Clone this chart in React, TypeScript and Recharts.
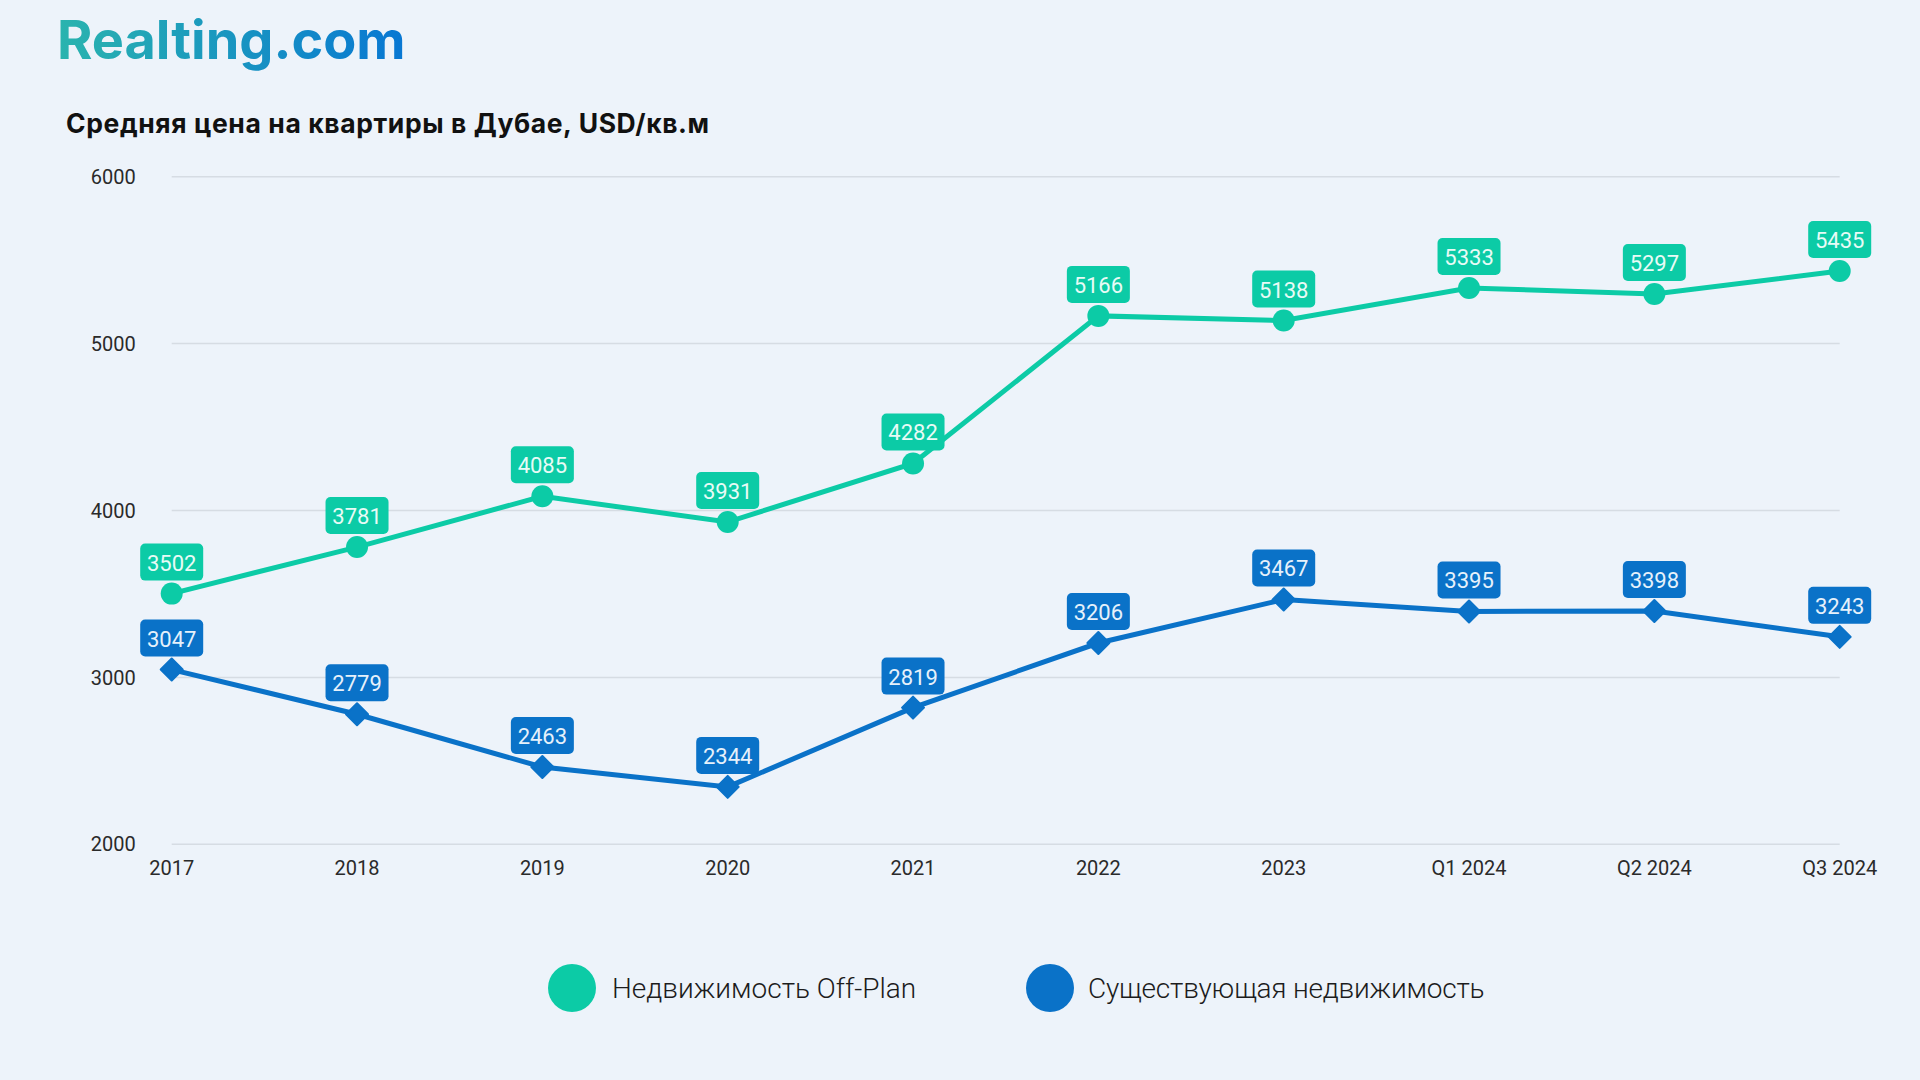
import React from 'react';
import { LineChart, Line, XAxis, YAxis, CartesianGrid, LabelList } from 'recharts';

const periods = ['2017', '2018', '2019', '2020', '2021', '2022', '2023', 'Q1 2024', 'Q2 2024', 'Q3 2024'];
const offPlanPrices = [3502, 3781, 4085, 3931, 4282, 5166, 5138, 5333, 5297, 5435];
const existingPrices = [3047, 2779, 2463, 2344, 2819, 3206, 3467, 3395, 3398, 3243];
const yTicks = [2000, 3000, 4000, 5000, 6000];

const GREEN = '#0ccba6';
const BLUE = '#0a72c8';
const BG = '#edf3fa';

const data = periods.map((p, i) => ({ period: p, offPlan: offPlanPrices[i], existing: existingPrices[i] }));

// rounded tag above each point
const makeTag = (fill: string, textFill: string) => (props: any) => {
  const { x, y, value } = props;
  if (x == null || y == null) return null;
  const w = 63;
  const h = 37;
  return (
    <g>
      <rect x={x - w / 2} y={y - 13 - h} width={w} height={h} rx={5} fill={fill} />
      <text
        x={x}
        y={y - 13 - h / 2 + 1}
        textAnchor="middle"
        dominantBaseline="central"
        fill={textFill}
        fontSize={22}
        fontWeight={400}
        fontFamily="Roboto"
      >
        {value}
      </text>
    </g>
  );
};

const GreenDot = (props: any) => {
  const { cx, cy, index } = props;
  return <circle key={`g-${index}`} cx={cx} cy={cy} r={11} fill={GREEN} />;
};

const BlueDot = (props: any) => {
  const { cx, cy, index } = props;
  const d = 11;
  return (
    <polygon
      key={`b-${index}`}
      points={`${cx},${cy - d} ${cx + d},${cy} ${cx},${cy + d} ${cx - d},${cy}`}
      fill={BLUE}
      stroke={BLUE}
      strokeWidth={2}
      strokeLinejoin="round"
    />
  );
};

const tickStyle = { fontSize: 20, fill: '#2a2a2a', fontFamily: 'Roboto' };

const App: React.FC = () => {
  return (
    <div style={{ position: 'absolute', left: 0, top: 0, width: 1920, height: 1080, background: BG, overflow: 'hidden' }}>
      <svg width={1920} height={1080} style={{ position: 'absolute', left: 0, top: 0 }}>
        <defs>
          <linearGradient id="logoGrad" x1="0" y1="0" x2="1" y2="0">
            <stop offset="0%" stopColor="#2ab4ae" />
            <stop offset="100%" stopColor="#0877d3" />
          </linearGradient>
        </defs>
        <text x={57} y={59} fontFamily="Inter" fontWeight={700} fontSize={54} fill="url(#logoGrad)">
          Realting.com
        </text>
        <text x={66} y={133} fontFamily="Inter" fontWeight={700} fontSize={26.5} letterSpacing={0.6} fill="#111">
          Средняя цена на квартиры в Дубае, USD/кв.м
        </text>

        <circle cx={572} cy={988} r={24} fill={GREEN} />
        <text x={612} y={998} fontFamily="Roboto" fontWeight={300} fontSize={28} fill="#1c1c1c">
          Недвижимость Off-Plan
        </text>
        <circle cx={1050} cy={988} r={24} fill={BLUE} />
        <text x={1088} y={998} fontFamily="Roboto" fontWeight={300} fontSize={28} letterSpacing={-0.2} fill="#1c1c1c">
          Существующая недвижимость
        </text>
      </svg>

      <div style={{ position: 'absolute', left: 0, top: 0 }}>
        <LineChart
          width={1920}
          height={1080}
          data={data}
          margin={{ top: 176.7, right: 80.3, bottom: 205.7, left: 71.7 }}
        >
          <CartesianGrid vertical={false} stroke="#d6dce3" strokeWidth={1.5} />
          <XAxis
            dataKey="period"
            axisLine={false}
            tickLine={false}
            tickSize={0}
            tickMargin={16}
            height={30}
            tick={tickStyle}
            interval={0}
          />
          <YAxis
            domain={[2000, 6000]}
            ticks={yTicks}
            axisLine={false}
            tickLine={false}
            tickSize={0}
            tickMargin={36}
            width={100}
            tick={tickStyle}
          />
          <Line
            type="linear"
            dataKey="offPlan"
            stroke={GREEN}
            strokeWidth={5}
            dot={GreenDot}
            activeDot={false}
            isAnimationActive={false}
          >
            <LabelList dataKey="offPlan" content={makeTag(GREEN, '#e8fbf6')} />
          </Line>
          <Line
            type="linear"
            dataKey="existing"
            stroke={BLUE}
            strokeWidth={5}
            dot={BlueDot}
            activeDot={false}
            isAnimationActive={false}
          >
            <LabelList dataKey="existing" content={makeTag(BLUE, '#e6f1fb')} />
          </Line>
        </LineChart>
      </div>
    </div>
  );
};

export default App;
